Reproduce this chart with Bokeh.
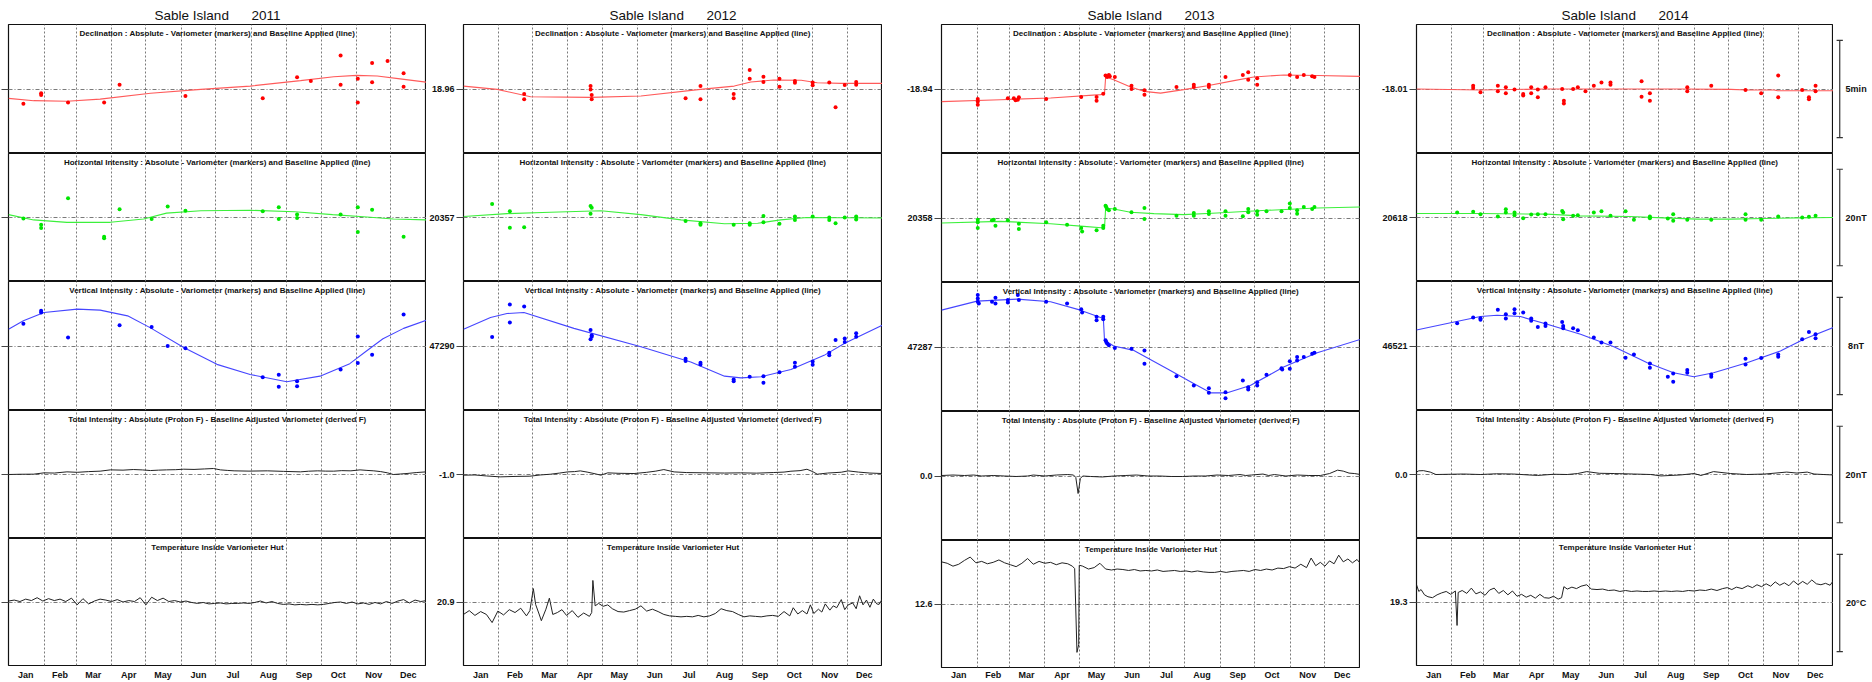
from bokeh.plotting import figure
from bokeh.layouts import row, column
from bokeh.models import Range1d, FixedTicker, Label
from bokeh.core.properties import value
from bokeh.embed import file_html
from bokeh.resources import INLINE

FONT = "Liberation Sans"

YEARS = ["2011", "2012", "2013", "2014"]
DAYS_IN_YEAR = [365, 366, 365, 365]
MONTHS = ["Jan", "Feb", "Mar", "Apr", "May", "Jun", "Jul", "Aug", "Sep", "Oct", "Nov", "Dec"]
MONTH_STARTS_365 = [0, 31, 59, 90, 120, 151, 181, 212, 243, 273, 304, 334, 365]
MONTH_STARTS_366 = [0, 31, 60, 91, 121, 152, 182, 213, 244, 274, 305, 335, 366]

PANEL_TITLES = [
    "Declination : Absolute - Variometer (markers) and Baseline Applied (line)",
    "Horizontal Intensity : Absolute - Variometer (markers) and Baseline Applied (line)",
    "Vertical Intensity : Absolute - Variometer (markers) and Baseline Applied (line)",
    "Total Intensity : Absolute (Proton F) - Baseline Adjusted Variometer (derived F)",
    "Temperature Inside Variometer Hut",
]
# scale bar sizes (min, nT, nT, nT, degC) and their labels
SCALE_VALUES = [5, 20, 8, 20, 20]
SCALE_LABELS = ["5min", "20nT", "8nT", "20nT", "20°C"]

# centre (baseline) values printed on each panel's axis; 2011's fall outside the page
CENTER_LABELS = [
    ["", "", "", "", ""],
    ["18.96", "20357", "47290", "-1.0", "20.9"],
    ["-18.94", "20358", "47287", "0.0", "12.6"],
    ["-18.01", "20618", "46521", "0.0", "19.3"],
]

# ---------------- 2011 (offsets from centre value; D in minutes, H/Z/F in nT, T in degC)
D11_MK_DAY = [13, 28.5, 28.5, 52, 83.5, 97, 154.5, 222, 252, 264, 290, 290, 305, 305, 317.5, 317.5, 331, 345, 345]
D11_MK_VAL = [-0.76, -0.22, -0.31, -0.69, -0.69, 0.22, -0.36, -0.48, 0.60, 0.41, 1.72, 0.22, 0.53, -0.69, 1.34, 0.35, 1.44, 0.81, 0.12]
D11_BL_DAY = [0, 22, 51, 80, 124, 168, 211, 255, 284, 304, 322, 342, 365]
D11_BL_VAL = [-0.48, -0.60, -0.63, -0.52, -0.22, -0.02, 0.15, 0.43, 0.63, 0.70, 0.67, 0.52, 0.35]

H11_MK_DAY = [13, 28.5, 28.5, 52, 83.5, 83.5, 97, 125, 139, 154.5, 222, 236, 236, 252, 252, 290, 305, 305, 317.5, 345]
H11_MK_VAL = [-0.2, -1.5, -2.2, 4.0, -4.0, -4.3, 1.7, -0.3, 2.3, 1.4, 1.3, 2.1, -0.3, 0.6, -0.1, 0.6, 2.1, -3.0, 1.6, -4.0]
H11_BL_DAY = [0, 22, 51, 89, 118, 138, 168, 211, 250, 283, 313, 336, 365]
H11_BL_VAL = [0.6, -0.5, -1.0, -1.0, -0.3, 0.9, 1.4, 1.5, 1.2, 0.6, 0.1, -0.3, -0.5]

Z11_MK_DAY = [13, 28.5, 28.5, 52, 97, 125, 139, 154.5, 222, 236, 236, 252, 252, 290, 305, 305, 317.5, 345]
Z11_MK_VAL = [1.82, 2.90, 2.76, 0.69, 1.71, 1.57, 0.0, -0.19, -2.56, -2.37, -3.36, -2.90, -3.30, -1.93, 0.78, -1.40, -0.71, 2.60]
Z11_BL_DAY = [0, 13, 31, 60, 80, 104, 124, 153, 182, 211, 243, 272, 298, 312, 327, 345, 365]
Z11_BL_VAL = [1.38, 2.07, 2.76, 3.03, 2.95, 2.48, 1.49, -0.13, -1.51, -2.34, -2.94, -2.48, -1.45, -0.45, 0.60, 1.45, 2.12]

F11 = [(0, 0.0), (10, 0.05), (22, 0.07), (31, 0.34), (40, 0.3), (51, 0.55), (60, 0.45), (70, 0.6), (80, 0.69),
       (89, 0.96), (100, 0.9), (109, 1.03), (117, 0.95), (124, 0.82), (131, 0.9), (138, 0.96), (146, 1.0),
       (153, 1.1), (162, 1.05), (171, 1.15), (179, 1.24), (185, 0.96), (191, 0.85), (197, 0.76), (210, 0.7),
       (226, 0.76), (240, 0.65), (255, 0.55), (262, 0.68), (270, 0.76), (277, 0.7), (284, 0.69), (291, 0.8),
       (299, 0.76), (307, 0.96), (313, 0.85), (319, 0.76), (325, 0.6), (331, 0.34), (336, 0.0), (342, 0.1),
       (348, 0.21), (356, 0.4), (365, 0.55)]

T11 = [(0, 0.2), (5, 0.4), (10, 0.1), (15, 0.6), (20, 0.3), (25, 0.9), (30, 0.2), (35, 0.7), (40, 0.3), (45, 0.6),
       (50, 0.1), (55, 0.8), (60, -0.6), (65, 0.7), (70, -0.4), (75, 0.2), (80, 0.6), (85, 0.4), (90, 0.1), (95, 0.5),
       (100, 0.0), (105, 0.3), (110, 0.1), (115, 0.9), (120, -0.6), (125, 1.0), (130, 0.3), (135, 0.8), (140, 0.1),
       (145, 0.3), (150, 0.0), (155, 0.2), (160, -0.1), (165, -0.3), (170, -0.1), (175, -0.4), (180, -0.3),
       (185, -0.2), (190, -0.4), (195, -0.3), (200, -0.3), (205, -0.2), (210, -0.3), (215, -0.1), (220, 0.2),
       (225, -0.2), (230, 0.1), (235, -0.3), (240, -0.5), (245, -0.4), (250, -0.6), (255, -0.5), (260, -0.6),
       (265, -0.5), (270, -0.6), (275, -0.5), (280, -0.3), (285, -0.1), (290, 0.0), (295, -0.3), (300, 0.0),
       (305, -0.4), (310, -0.2), (315, -0.5), (320, -0.1), (325, -0.4), (330, 0.1), (335, -0.3), (340, 0.2),
       (345, 0.5), (350, -0.2), (355, 0.4), (360, 0.1), (365, 0.3)]

# ---------------- 2012
D12_MK_DAY = [53, 53, 111, 111, 112, 112, 194, 207, 207, 236, 236, 250, 250, 262, 262, 276, 276, 289.5, 289.5, 305, 305, 319.5, 325, 333, 343, 343]
D12_MK_VAL = [-0.26, -0.53, 0.15, -0.02, -0.31, -0.53, -0.48, 0.15, -0.53, -0.26, -0.48, 0.98, 0.53, 0.63, 0.36, 0.53, 0.12, 0.41, 0.32, 0.34, 0.19, 0.34, -0.94, 0.21, 0.36, 0.22]
D12_BL_DAY = [0, 29.5, 58.6, 111, 155, 207, 236.5, 251, 271, 295, 309, 330, 366]
D12_BL_VAL = [0.15, -0.02, -0.40, -0.43, -0.36, -0.02, 0.15, 0.36, 0.46, 0.45, 0.32, 0.29, 0.29]

H12_MK_DAY = [25, 40.5, 40.5, 53, 111, 112, 111, 194, 207, 207, 236, 250, 250, 262, 262, 276, 289.5, 289.5, 305, 319.5, 319.5, 325, 333, 343, 343]
H12_MK_VAL = [2.8, 1.3, -2.1, -2.0, 2.4, 2.0, 0.8, -0.7, -1.2, -1.5, -1.5, -1.2, -1.5, 0.3, -1.0, -1.3, 0.2, -0.5, 0.2, 0.0, -0.5, -1.2, 0.0, 0.2, -0.4]
H12_BL_DAY = [0, 38, 76, 120, 155, 190, 228, 257, 277, 300, 366]
H12_BL_VAL = [0.2, 0.8, 1.1, 1.4, 0.6, -0.5, -1.3, -1.2, -0.5, 0.0, -0.1]

Z12_MK_DAY = [25, 40.5, 40.5, 53, 111, 112, 111, 112, 194, 194, 207, 207, 236, 236, 250, 262, 262, 276, 289.5, 289.5, 305, 305, 319.5, 319.5, 325, 333, 333, 343, 343]
Z12_MK_VAL = [0.74, 3.42, 1.93, 3.25, 1.32, 0.88, 0.55, 0.77, -1.05, -1.24, -1.38, -1.52, -2.75, -2.89, -2.53, -2.48, -3.03, -2.15, -1.38, -1.71, -1.27, -1.54, -0.55, -0.77, 0.50, 0.61, 0.33, 1.05, 0.77]
Z12_BL_DAY = [0, 23.6, 38, 52.8, 96.5, 155, 198.5, 228, 242.4, 260, 286, 315, 333, 366]
Z12_BL_VAL = [1.38, 2.34, 2.67, 2.75, 1.45, -0.06, -1.32, -2.48, -2.62, -2.53, -1.93, -0.77, 0.22, 1.71]

F12 = [(0, -0.14), (10, -0.1), (20, -0.3), (32, -0.49), (45, -0.4), (58, -0.35), (67, -0.1), (76, 0.06), (84, 0.3),
       (91, 0.54), (97, 0.6), (102, 0.75), (108, 0.5), (114, 0.2), (120, -0.14), (126, 0.34), (135, 0.25),
       (149, 0.2), (160, 0.45), (168, 0.7), (175, 1.02), (184, 0.54), (195, 0.4), (213, 0.34), (228, 0.3),
       (242, 0.34), (256, 0.28), (271, 0.41), (280, 0.5), (286, 0.68), (294, 0.8), (300, 1.09), (305, 0.6),
       (309, 0.06), (318, 0.3), (330, 0.47), (336, 0.75), (345, 0.5), (355, 0.3), (366, 0.2)]

T12 = [(0, -2.6), (5, -1.8), (10, -2.8), (15, -2.0), (20, -2.6), (25, -4.3), (30, -1.9), (35, -2.7), (40, -1.6),
       (45, -2.2), (50, -1.3), (55, -2.9), (58, -1.8), (61, 2.8), (63, -0.5), (66, -2.5), (68, -3.9), (72, -1.5),
       (75, 0.8), (78, -2.6), (82, -2.2), (86, -1.6), (90, -2.8), (95, -1.8), (100, -3.2), (105, -2.3), (110, -3.0),
       (112, -2.2), (113, 4.5), (115, -0.8), (118, -0.3), (122, -0.9), (126, -0.6), (130, -1.4), (135, -2.0),
       (140, -2.1), (145, -1.8), (150, -1.5), (155, -0.8), (160, -1.9), (165, -1.5), (170, -2.0), (175, -2.6),
       (180, -2.9), (185, -3.0), (190, -3.1), (195, -3.0), (200, -3.1), (205, -2.8), (210, -3.1), (215, -2.9),
       (220, -2.4), (225, -1.4), (230, -1.8), (235, -2.0), (240, -2.6), (245, -3.1), (250, -2.9), (255, -3.0),
       (260, -3.1), (265, -2.9), (270, -2.8), (275, -3.0), (280, -2.0), (285, -2.9), (288, -1.2), (292, -2.5),
       (296, -1.8), (300, -2.5), (303, -0.6), (306, -2.4), (310, -1.5), (313, -2.1), (316, -0.4), (320, -1.7),
       (323, -0.8), (326, -1.2), (330, 0.5), (333, -1.6), (336, -0.6), (340, -0.2), (343, -1.4), (346, 1.3),
       (349, -0.6), (352, 0.4), (355, -1.1), (358, 0.6), (361, -0.4), (363, -0.5), (366, 0.7)]

# ---------------- 2013
D13_MK_DAY = [31.6, 31.6, 31.6, 57.8, 63, 64.5, 66.5, 67.4, 91.2, 121.7, 135.1, 135.1, 140.9, 142.9, 144.3, 145.8, 146.6, 151, 165.5, 165.5, 176.8, 176.8, 204.7, 219.8, 219.8, 232.9, 232.9, 247.4, 262.5, 267.2, 267.2, 275, 275, 303.4, 309.8, 315.6, 322.9, 324.9]
D13_MK_VAL = [-0.52, -0.64, -0.81, -0.48, -0.48, -0.58, -0.55, -0.43, -0.52, -0.41, -0.41, -0.60, -0.24, 0.69, 0.62, 0.72, 0.65, 0.62, 0.17, 0.0, -0.07, -0.29, 0.10, 0.22, 0.10, 0.22, 0.10, 0.62, 0.72, 0.86, 0.48, 0.55, 0.22, 0.72, 0.62, 0.72, 0.65, 0.62]
D13_BL_DAY = [0, 51.4, 95, 138.5, 142, 143, 150, 164.7, 176.3, 190.8, 211, 231.6, 254.8, 272, 298.3, 327.3, 365]
D13_BL_VAL = [-0.65, -0.55, -0.46, -0.29, -0.24, 0.62, 0.48, 0.10, -0.12, -0.21, -0.03, 0.17, 0.43, 0.62, 0.72, 0.69, 0.65]

H13_MK_DAY = [31.6, 31.6, 31.6, 44, 45.5, 47, 57.8, 67.4, 67.4, 91.2, 109.4, 121.7, 122.5, 135.1, 140.9, 140.9, 142.9, 144.3, 145.8, 143.5, 151, 165.5, 176.8, 176.8, 204.7, 219.8, 219.8, 232.9, 232.9, 247.4, 247.4, 262.5, 267.2, 267.2, 275, 275, 283.1, 296.2, 303.4, 303.4, 309.8, 309.8, 315.6, 322.9, 324.9]
H13_MK_VAL = [-0.34, -0.89, -2.06, -0.48, -0.34, -1.58, -0.48, -1.17, -2.27, -0.89, -1.37, -2.06, -2.75, -2.54, -2.06, -1.58, 2.54, 1.86, 1.58, 2.27, 1.86, 1.17, 2.06, -0.21, 0.48, 1.03, 0.48, 1.37, 0.82, 1.37, 0.48, 0.34, 1.86, 1.17, 1.37, 0.69, 1.37, 1.37, 2.96, 2.06, 1.58, 0.89, 2.27, 1.86, 2.27]
H13_BL_DAY = [0, 51.4, 95, 124, 142, 143, 150, 164.7, 185, 211, 240, 283.6, 327, 365]
H13_BL_VAL = [-1.03, -0.69, -1.17, -1.72, -2.06, 2.06, 1.86, 1.17, 0.89, 0.69, 1.03, 1.58, 2.06, 2.27]

Z13_MK_DAY = [31.6, 31.6, 31.6, 32.5, 44, 47, 47, 57.8, 57.8, 66.5, 67.4, 91.2, 109.4, 121.7, 122.5, 135.1, 135.1, 140.9, 140.9, 142.9, 144.3, 145.8, 143.5, 151, 165.5, 176.8, 176.8, 204.7, 219.8, 232.9, 232.9, 247.4, 247.4, 262.5, 267.2, 267.2, 275, 275, 283.1, 296.2, 296.8, 303.4, 303.4, 309.8, 309.8, 315.6, 322.9, 324.9]
Z13_MK_VAL = [4.27, 3.99, 3.72, 3.58, 3.72, 4.05, 3.58, 3.86, 3.66, 4.27, 3.86, 3.72, 3.58, 3.11, 2.84, 2.48, 2.20, 2.48, 2.29, 0.55, 0.28, 0.14, 0.41, -0.08, -0.14, -0.28, -1.38, -2.40, -3.17, -3.39, -3.77, -3.72, -4.21, -2.75, -3.31, -3.50, -2.89, -3.17, -2.29, -1.74, -1.85, -1.18, -1.79, -0.83, -1.10, -0.83, -0.55, -0.47]
Z13_BL_DAY = [0, 31, 66, 95, 121, 141, 142, 150, 167.6, 196.6, 220, 234.5, 249, 269, 298, 327.3, 365]
Z13_BL_VAL = [3.03, 3.77, 3.94, 3.72, 3.03, 2.34, 0.55, 0.08, -0.28, -1.79, -3.03, -3.77, -3.77, -3.17, -1.65, -0.47, 0.63]

F13 = [(0, 0.1), (10, 0.2), (20, 0.1), (28, 0.2), (35, 0.0), (45, 0.1), (55, 0.0), (65, -0.1), (75, 0.0), (80, 0.2),
       (90, 0.0), (100, 0.2), (110, 0.3), (115, 0.2), (117, -0.3), (119, -3.6), (121, -0.5), (123, 0.0),
       (130, -0.1), (140, -0.2), (150, 0.0), (160, 0.1), (170, 0.2), (180, 0.0), (190, 0.0), (200, -0.1),
       (210, -0.1), (220, 0.0), (230, 0.0), (240, 0.2), (250, 0.1), (260, 0.3), (265, 0.1), (270, 0.2),
       (280, 0.4), (285, 0.1), (290, 0.3), (300, 0.0), (310, 0.2), (320, 0.1), (330, 0.1), (338, 0.5),
       (345, 1.2), (350, 1.0), (355, 0.6), (360, 0.5), (365, 0.3)]

T13 = [(0, 8.8), (5, 8.5), (10, 7.9), (15, 8.3), (20, 9.1), (25, 9.8), (30, 8.6), (35, 8.9), (40, 8.4), (45, 8.7),
       (50, 9.2), (55, 8.6), (60, 8.2), (65, 7.8), (70, 8.5), (75, 9.5), (80, 8.3), (85, 8.9), (90, 8.5),
       (95, 8.7), (100, 8.2), (105, 8.6), (110, 8.4), (114, 7.9), (116, 7.4), (118, -10.1), (119.5, -8.5),
       (120, 8.1), (123, 7.9), (128, 7.3), (133, 7.6), (138, 8.5), (143, 7.3), (148, 7.1), (153, 7.3),
       (158, 7.2), (163, 7.0), (168, 7.2), (173, 6.9), (178, 7.0), (183, 6.9), (188, 7.1), (193, 6.8),
       (198, 6.9), (203, 7.0), (208, 6.8), (213, 6.9), (218, 6.7), (223, 6.9), (228, 6.7), (233, 6.6),
       (238, 6.6), (243, 6.8), (248, 6.6), (253, 6.8), (258, 6.9), (263, 7.0), (268, 6.8), (273, 7.2),
       (278, 7.0), (283, 7.3), (288, 7.1), (293, 7.5), (298, 7.4), (303, 7.8), (308, 7.5), (313, 8.3),
       (318, 7.6), (322, 9.6), (326, 8.0), (330, 8.7), (334, 7.9), (338, 9.0), (342, 8.4), (346, 10.2),
       (350, 8.8), (354, 9.4), (358, 8.6), (362, 9.3), (365, 8.4)]

# ---------------- 2014
D14_MK_DAY = [49.6, 49.6, 56, 71.2, 71.2, 78.2, 78.2, 85.8, 93.4, 93.4, 100.4, 100.4, 106.2, 106.2, 112.9, 127.5, 129, 129, 137.1, 141.2, 147.9, 155.2, 161.9, 169.8, 169.8, 197, 197, 204.3, 204.3, 237, 237, 258, 288, 301.7, 316.6, 316.6, 337.6, 343.5, 343.5, 349.3, 349.3]
D14_MK_VAL = [0.17, 0.05, -0.17, 0.17, -0.12, 0.09, -0.22, -0.02, -0.26, -0.34, 0.09, -0.22, -0.02, -0.43, 0.09, 0.0, -0.60, -0.74, 0.0, 0.09, -0.12, 0.17, 0.33, 0.33, 0.22, 0.40, -0.40, -0.22, -0.60, 0.09, -0.12, 0.17, -0.05, -0.22, 0.69, -0.43, -0.05, -0.43, -0.53, 0.17, -0.12]
D14_BL_DAY = [0, 56, 114, 172.7, 231, 275, 289.5, 313, 316, 365]
D14_BL_VAL = [0.0, -0.05, 0.0, 0.0, 0.0, -0.02, -0.05, -0.05, -0.09, -0.09]

H14_MK_DAY = [35.6, 49.6, 56, 71.2, 78.2, 78.2, 85.8, 85.8, 93.4, 100.4, 106.2, 112.9, 127.5, 128.4, 128.4, 137.1, 141.2, 155.2, 161.9, 169.8, 183, 190.3, 204.3, 204.3, 220, 224.7, 224.7, 237, 258, 288, 288, 301.7, 316.6, 337.6, 343.5, 349.3]
H14_MK_VAL = [1.03, 1.17, 0.69, 0.21, 1.72, 1.03, 1.03, 0.48, -0.14, 0.62, 0.69, 0.69, 1.37, 1.03, -0.34, 0.34, 0.48, 1.03, 1.31, 0.34, 1.31, -0.48, 0.21, -0.14, -0.21, 0.69, -0.69, -0.48, -0.48, 0.69, -0.48, -0.48, 0.21, 0.0, 0.14, 0.34]
H14_BL_DAY = [0, 56, 114, 143, 187, 216, 245.6, 274.8, 304, 333, 365]
H14_BL_VAL = [0.82, 0.82, 0.69, 0.34, 0.21, -0.07, -0.34, -0.34, -0.21, -0.07, 0.0]

Z14_MK_DAY = [35.6, 49.6, 56, 56, 71.2, 78.2, 78.2, 85.8, 85.8, 93.4, 100.4, 100.4, 106.2, 112.9, 112.9, 127.5, 128.4, 128.4, 137.1, 141.2, 155.2, 161.9, 169.8, 183, 190.3, 204.3, 204.3, 220, 224.7, 224.7, 237, 237, 258, 258, 288, 288, 301.7, 316.6, 316.6, 337.6, 343.5, 349.3, 349.3]
Z14_MK_VAL = [1.87, 2.34, 2.29, 2.15, 2.98, 2.62, 2.26, 3.03, 2.70, 2.75, 2.26, 2.07, 1.57, 1.85, 1.65, 1.98, 1.65, 1.46, 1.46, 1.29, 0.69, 0.28, 0.28, -0.96, -0.69, -1.43, -1.79, -2.53, -2.26, -2.95, -1.98, -2.20, -2.34, -2.53, -1.05, -1.52, -0.99, -0.69, -0.88, 0.55, 1.16, 0.96, 0.63]
Z14_BL_DAY = [0, 26.8, 56, 70.6, 91, 114.4, 143.6, 172.8, 202, 225, 242.8, 260, 289.3, 318.5, 339, 365]
Z14_BL_VAL = [1.32, 1.85, 2.42, 2.53, 2.42, 1.79, 0.96, -0.06, -1.38, -2.20, -2.53, -2.20, -1.38, -0.41, 0.55, 1.52]

F14 = [(0, 0.5), (2, 0.76), (6, 0.8), (12, 0.5), (17, 0.0), (30, 0.05), (41, 0.1), (56, 0.0), (70, 0.15), (85, 0.1),
       (95, -0.05), (106, -0.2), (120, 0.05), (132, 0.0), (141, 0.2), (149, 0.6), (160, 0.25), (173, 0.2),
       (190, 0.1), (205, 0.0), (214, -0.3), (231, -0.1), (243, 0.2), (249, -0.2), (260, 0.6), (275, 0.2),
       (289, 0.0), (305, 0.1), (324, 0.5), (333, 0.3), (342, 0.5), (348, 0.1), (356, 0.0), (365, -0.1)]

T14 = [(0, 3.6), (2, 2.2), (4, 2.6), (7, 1.5), (10, 1.1), (14, 0.9), (18, 1.5), (22, 1.9), (26, 2.2), (30, 1.6),
       (34, 2.3), (35.5, -4.9), (36.5, 2.0), (40, 2.4), (44, 1.8), (48, 2.9), (52, 1.7), (56, 2.1), (60, 1.4),
       (64, 2.5), (68, 2.9), (72, 1.8), (76, 2.4), (80, 1.5), (84, 2.3), (88, 1.2), (92, 1.6), (96, 1.0),
       (100, 1.4), (104, 0.8), (108, 1.6), (112, 0.9), (116, 0.8), (120, 1.2), (124, 0.6), (127, 0.9),
       (129, 3.2), (132, 2.7), (136, 3.1), (140, 2.8), (144, 3.3), (149, 3.6), (153, 2.7), (158, 2.6),
       (163, 2.7), (168, 2.4), (173, 2.5), (178, 2.2), (183, 2.4), (188, 2.2), (193, 2.3), (198, 2.2),
       (203, 2.2), (208, 2.3), (213, 2.2), (218, 2.3), (223, 2.2), (228, 2.3), (233, 2.2), (238, 2.4),
       (243, 2.3), (248, 2.5), (253, 2.4), (258, 2.7), (263, 2.4), (268, 2.8), (272, 3.0), (276, 2.6),
       (280, 3.1), (285, 2.8), (290, 3.4), (294, 3.0), (298, 3.6), (302, 3.2), (306, 3.8), (310, 3.3),
       (314, 4.2), (318, 3.5), (322, 4.0), (326, 3.4), (330, 4.4), (334, 3.6), (338, 4.3), (342, 3.7),
       (346, 4.6), (350, 3.8), (354, 3.6), (358, 3.9), (362, 3.5), (365, 4.5)]

MARKER_DATA = [
    [(D11_MK_DAY, D11_MK_VAL, D11_BL_DAY, D11_BL_VAL), (H11_MK_DAY, H11_MK_VAL, H11_BL_DAY, H11_BL_VAL), (Z11_MK_DAY, Z11_MK_VAL, Z11_BL_DAY, Z11_BL_VAL)],
    [(D12_MK_DAY, D12_MK_VAL, D12_BL_DAY, D12_BL_VAL), (H12_MK_DAY, H12_MK_VAL, H12_BL_DAY, H12_BL_VAL), (Z12_MK_DAY, Z12_MK_VAL, Z12_BL_DAY, Z12_BL_VAL)],
    [(D13_MK_DAY, D13_MK_VAL, D13_BL_DAY, D13_BL_VAL), (H13_MK_DAY, H13_MK_VAL, H13_BL_DAY, H13_BL_VAL), (Z13_MK_DAY, Z13_MK_VAL, Z13_BL_DAY, Z13_BL_VAL)],
    [(D14_MK_DAY, D14_MK_VAL, D14_BL_DAY, D14_BL_VAL), (H14_MK_DAY, H14_MK_VAL, H14_BL_DAY, H14_BL_VAL), (Z14_MK_DAY, Z14_MK_VAL, Z14_BL_DAY, Z14_BL_VAL)],
]
LINE_DATA = [[F11, T11], [F12, T12], [F13, T13], [F14, T14]]

# ---------------- styling / layout
MK_COLORS = ["#ff0000", "#00e600", "#0000ff"]
BL_COLORS = ["#ff5a5a", "#3cf03c", "#4646ff"]
SPAN = 0.663          # half panel height, in units of the scale bar
FRAME_W = [418, 419, 419, 417]
LEFT_B = [8, 37, 59, 56]
FRAME_H = [[129, 128, 129, 128, 129], [129, 128, 129, 128, 129],
           [129, 129, 129, 129, 129], [129, 128, 129, 128, 129]]
BOT_B = [15, 15, 13, 15]
TOP_B = 24
GRID_COLOR = "#7a7a7a"
TITLE_GAP = " \u00a0 \u00a0 \u00a0"


def make_panel(ci, pi):
    ndays = DAYS_IN_YEAR[ci]
    starts = MONTH_STARTS_366 if ndays == 366 else MONTH_STARTS_365
    top = TOP_B if pi == 0 else 0
    bot = BOT_B[ci] if pi == 4 else 0
    half = SPAN * SCALE_VALUES[pi]
    label = CENTER_LABELS[ci][pi]
    p = figure(width=LEFT_B[ci] + FRAME_W[ci], height=FRAME_H[ci][pi] + top + bot,
               x_range=Range1d(0, ndays), y_range=Range1d(-half, half),
               output_backend="svg", toolbar_location=None,
               min_border=0, min_border_left=LEFT_B[ci], min_border_right=0,
               min_border_top=top, min_border_bottom=bot,
               x_axis_location="below" if pi == 4 else None,
               y_axis_location="left")
    p.background_fill_color = "white"
    p.border_fill_color = "white"
    p.outline_line_color = "#111111"
    p.outline_line_width = 1.2

    if pi == 0:
        p.title.text = "Sable Island" + TITLE_GAP + YEARS[ci]
        p.title.align = "center"
        p.title.text_font = FONT
        p.title.text_font_size = "13.5px"
        p.title.text_font_style = "normal"
        p.title.text_color = "#111111"
        p.title.standoff = 3
        p.title.offset = 0

    p.xgrid.ticker = FixedTicker(ticks=starts[1:-1])
    p.xgrid.grid_line_color = GRID_COLOR
    p.xgrid.grid_line_dash = "2 2"
    p.xgrid.grid_line_width = 1
    p.ygrid.ticker = FixedTicker(ticks=[0])
    p.ygrid.grid_line_color = GRID_COLOR
    p.ygrid.grid_line_dash = "4 2 1 2"
    p.ygrid.grid_line_width = 1

    ax = p.yaxis[0]
    ax.ticker = FixedTicker(ticks=[0])
    ax.major_label_overrides = {0: label}
    ax.axis_line_color = None
    ax.major_tick_in = 0
    ax.major_tick_out = 7
    ax.major_tick_line_color = "#444444"
    ax.minor_tick_line_color = None
    ax.major_label_standoff = 2 if label else 0
    ax.major_label_text_font = FONT
    ax.major_label_text_font_size = "9px"
    ax.major_label_text_font_style = "bold"
    ax.major_label_text_color = "#111111"

    if pi == 4:
        mids = [(starts[i] + starts[i + 1]) // 2 for i in range(12)]
        ax = p.xaxis[0]
        ax.ticker = FixedTicker(ticks=mids)
        ax.major_label_overrides = {m: MONTHS[i] for i, m in enumerate(mids)}
        ax.axis_line_color = None
        ax.major_tick_line_color = None
        ax.minor_tick_line_color = None
        ax.major_tick_in = 0
        ax.major_tick_out = 0
        ax.major_label_standoff = 4 if BOT_B[ci] >= 15 else 2
        ax.major_label_text_font = FONT
        ax.major_label_text_font_size = "9px"
        ax.major_label_text_font_style = "bold"
        ax.major_label_text_color = "#111111"

    if pi < 3:
        mk_day, mk_val, bl_day, bl_val = MARKER_DATA[ci][pi]
        p.line(bl_day, bl_val, line_color=BL_COLORS[pi], line_width=1.1)
        p.scatter(mk_day, mk_val, size=4, marker="circle", fill_color=MK_COLORS[pi], line_color=None)
    else:
        series = LINE_DATA[ci][pi - 3]
        p.line([d for d, v in series], [v for d, v in series], line_color="#222222", line_width=1)

    p.add_layout(Label(x=ndays / 2, y=half, x_units="data", y_units="data", text=PANEL_TITLES[pi],
                       text_align="center", text_baseline="top", y_offset=-4,
                       text_font=FONT, text_font_size="8px", text_font_style="bold", text_color="#111111"))
    return p


def make_scale(pi):
    top = TOP_B if pi == 0 else 0
    bot = BOT_B[3] if pi == 4 else 0
    half = SPAN * SCALE_VALUES[pi]
    s = SCALE_VALUES[pi]
    p = figure(width=39, height=FRAME_H[3][pi] + top + bot, x_range=Range1d(0, 1), y_range=Range1d(-half, half),
               output_backend="svg", toolbar_location=None, min_border=0,
               min_border_top=top, min_border_bottom=bot,
               x_axis_location=None, y_axis_location=None)
    p.outline_line_color = None
    p.grid.visible = False
    p.background_fill_color = "white"
    p.border_fill_color = "white"
    p.segment(x0=[0.16], y0=[-s / 2], x1=[0.16], y1=[s / 2], line_color="#333333", line_width=1.2)
    p.segment(x0=[0.08, 0.08], y0=[-s / 2, s / 2], x1=[0.24, 0.24], y1=[-s / 2, s / 2],
              line_color="#333333", line_width=1.2)
    p.text(x=[0.58], y=[0], text=[SCALE_LABELS[pi]], text_align="center", text_baseline="middle",
           text_font=value(FONT), text_font_size="9px", text_font_style="bold", text_color="#111111")
    return p


cols = []
for ci in range(4):
    cols.append(column(*[make_panel(ci, pi) for pi in range(5)], spacing=0))
cols.append(column(*[make_scale(pi) for pi in range(5)], spacing=0))
layout = row(*cols, spacing=0)

open("out.html", "w").write(file_html(layout, INLINE))
